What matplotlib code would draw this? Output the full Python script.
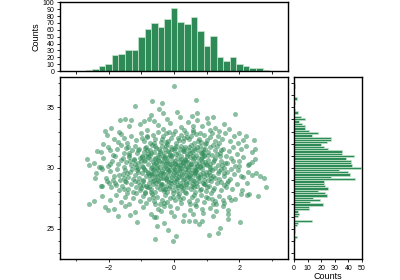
import numpy as np
import matplotlib.pyplot as plt
from matplotlib.ticker import MultipleLocator

plt.rcParams['font.family'] = ['Liberation Sans', 'DejaVu Sans']

# counts (x marginal)
x_counts = [2, 3, 7, 11, 23, 25, 30, 30, 50, 61, 70, 64, 76, 91, 72, 69,
            79, 58, 37, 51, 21, 15, 20, 10, 8, 5, 5, 2]
x_bins = np.linspace(-2.71, 2.92, len(x_counts) + 1)

# counts (y marginal), bottom to top
y_counts = [1, 2, 0, 1, 1, 1, 2, 3, 13, 0, 3, 4, 3, 11, 11, 21, 12, 19, 14, 24,
            23, 18, 25, 23, 22, 22, 45, 27, 41, 40, 33, 49, 43, 42, 42, 38, 44, 35, 35, 25,
            22, 20, 24, 27, 27, 13, 18, 11, 8, 8, 6, 4, 8, 5, 0, 3, 1, 0, 0, 1,
            0, 2, 0, 0, 0, 0, 1, 1]
y_bins = np.linspace(24.04, 36.96, len(y_counts) + 1)

# scatter points
outer_pts = [
    (0.0, 36.73), (-0.69, 35.52), (0.67, 35.63), (-1.2, 35.11), (-0.38, 35.38), (-0.45, 34.84),
    (-0.33, 34.53), (0.08, 34.62), (0.72, 34.56), (1.86, 34.48), (-1.66, 33.93), (-1.49, 34.01),
    (-1.32, 33.93), (-0.76, 34.01), (-1.92, 33.32), (-2.11, 33.02), (-1.7, 32.97), (1.0, 34.12),
    (1.19, 34.2), (1.7, 33.19), (2.0, 32.86), (2.22, 32.64), (2.47, 32.34), (1.38, 33.05),
    (1.1, 33.1), (-2.19, 32.0), (2.5, 31.54), (-2.35, 31.4), (-2.66, 30.74), (-2.61, 30.27),
    (-2.3, 30.08), (-2.43, 29.2), (-2.23, 28.49), (-2.0, 28.76), (-2.61, 27.06), (-2.45, 27.25),
    (-2.11, 26.79), (-2.03, 26.51), (-1.71, 26.04), (-1.14, 25.55), (-0.54, 25.96), (-0.53, 25.22),
    (-0.59, 24.18), (-0.03, 23.96), (0.05, 24.37), (-0.18, 24.92), (-0.31, 25.49), (1.06, 24.48),
    (1.36, 24.64), (1.42, 25.08), (1.67, 25.77), (2.03, 25.55), (1.67, 26.18), (0.46, 25.63),
    (0.63, 25.63), (0.87, 25.6), (0.78, 25.41), (0.27, 25.63), (2.57, 27.66), (2.81, 28.43),
    (2.75, 29.2), (2.63, 29.31), (2.52, 29.59), (2.41, 30.49), (2.26, 30.27), (2.05, 29.31),
    (2.29, 27.88), (1.75, 27.39), (1.5, 27.34), (1.19, 27.06), (1.16, 27.47), (1.67, 26.51),
]
core_pts = [
    # 33-34
    (-1.05, 33.6), (-0.62, 33.9), (-0.35, 33.2), (-0.12, 33.7), (0.21, 33.4), (0.44, 33.8),
    (0.58, 33.1), (0.86, 33.5), (1.27, 33.3), (-0.84, 33.15), (0.03, 33.05), (-1.38, 33.45),
    (0.71, 33.95), (-0.48, 33.55), (1.52, 33.6), (0.32, 33.15), (-0.93, 33.85), (1.05, 33.7),
    (-0.21, 34.05), (0.55, 34.3), (-0.7, 34.35), (0.18, 34.2),
    # 32-33
    (-1.85, 32.4), (-1.62, 32.8), (-1.44, 32.1), (-1.31, 32.65), (-1.18, 32.3), (-1.02, 32.9),
    (-0.91, 32.2), (-0.83, 32.55), (-0.74, 32.05), (-0.66, 32.75), (-0.57, 32.35), (-0.49, 32.95),
    (-0.41, 32.15), (-0.33, 32.6), (-0.26, 32.85), (-0.18, 32.25), (-0.09, 32.5), (-0.02, 32.8),
    (0.07, 32.1), (0.13, 32.45), (0.22, 32.7), (0.29, 32.2), (0.37, 32.9), (0.45, 32.35),
    (0.52, 32.6), (0.61, 32.05), (0.68, 32.8), (0.76, 32.4), (0.84, 32.15), (0.92, 32.7),
    (1.01, 32.3), (1.09, 32.55), (1.17, 32.9), (1.26, 32.2), (1.35, 32.65), (1.47, 32.4),
    (1.58, 32.85), (1.71, 32.25), (1.83, 32.6), (2.12, 32.3), (-2.05, 32.75), (-1.53, 32.5),
    (-0.97, 32.45), (-0.14, 32.95), (0.41, 32.55), (0.97, 32.05), (-0.62, 32.1), (0.58, 32.95),
    (1.38, 32.05), (-1.72, 32.15), (0.16, 32.3), (-0.37, 32.4), (0.8, 32.85), (1.95, 32.05),
    # 31-32
    (-2.25, 31.3), (-2.02, 31.75), (-1.88, 31.1), (-1.76, 31.55), (-1.64, 31.9), (-1.55, 31.2),
    (-1.46, 31.65), (-1.37, 31.05), (-1.29, 31.45), (-1.21, 31.8), (-1.13, 31.25), (-1.06, 31.6),
    (-0.98, 31.0), (-0.92, 31.35), (-0.86, 31.75), (-0.79, 31.15), (-0.73, 31.5), (-0.67, 31.9),
    (-0.61, 31.3), (-0.55, 31.65), (-0.49, 31.05), (-0.43, 31.4), (-0.38, 31.8), (-0.32, 31.2),
    (-0.27, 31.55), (-0.21, 31.95), (-0.16, 31.35), (-0.1, 31.7), (-0.05, 31.1), (0.01, 31.45),
    (0.06, 31.85), (0.11, 31.25), (0.17, 31.6), (0.23, 31.0), (0.28, 31.4), (0.34, 31.75),
    (0.39, 31.15), (0.45, 31.5), (0.51, 31.9), (0.56, 31.3), (0.62, 31.65), (0.67, 31.05),
    (0.73, 31.45), (0.79, 31.8), (0.85, 31.2), (0.9, 31.55), (0.96, 31.95), (1.03, 31.35),
    (1.1, 31.7), (1.18, 31.1), (1.25, 31.5), (1.33, 31.85), (1.42, 31.25), (1.51, 31.6),
    (1.6, 31.0), (1.7, 31.4), (1.81, 31.75), (1.93, 31.15), (2.06, 31.55), (2.21, 31.85),
    (2.38, 31.3), (-1.95, 31.45), (-1.41, 31.75), (-0.83, 31.45), (-0.46, 31.6), (-0.12, 31.05),
    (0.2, 31.8), (0.48, 31.2), (0.88, 31.35), (1.21, 31.9), (-0.7, 31.25), (0.31, 31.55),
    (0.7, 31.7), (-0.24, 31.85), (1.05, 31.05), (-1.1, 31.5), (0.03, 31.65), (0.6, 31.45),
    (-0.57, 31.85), (1.45, 31.45), (-0.35, 31.0), (0.95, 31.6),
    # 30-31
    (-2.45, 30.4), (-2.18, 30.85), (-2.02, 30.15), (-1.9, 30.6), (-1.81, 30.95), (-1.72, 30.3),
    (-1.63, 30.7), (-1.55, 30.05), (-1.47, 30.5), (-1.39, 30.9), (-1.31, 30.25), (-1.24, 30.65),
    (-1.17, 30.1), (-1.1, 30.45), (-1.04, 30.8), (-0.97, 30.2), (-0.91, 30.55), (-0.85, 30.95),
    (-0.79, 30.35), (-0.74, 30.75), (-0.68, 30.1), (-0.63, 30.5), (-0.57, 30.85), (-0.52, 30.25),
    (-0.47, 30.6), (-0.42, 30.05), (-0.37, 30.4), (-0.32, 30.8), (-0.27, 30.2), (-0.22, 30.55),
    (-0.17, 30.9), (-0.12, 30.3), (-0.07, 30.7), (-0.02, 30.1), (0.03, 30.45), (0.08, 30.85),
    (0.13, 30.25), (0.18, 30.6), (0.23, 30.0), (0.28, 30.4), (0.33, 30.75), (0.38, 30.15),
    (0.43, 30.5), (0.48, 30.9), (0.53, 30.3), (0.58, 30.65), (0.63, 30.05), (0.68, 30.45),
    (0.74, 30.8), (0.8, 30.2), (0.86, 30.55), (0.92, 30.95), (0.98, 30.35), (1.05, 30.7),
    (1.12, 30.1), (1.19, 30.5), (1.27, 30.85), (1.35, 30.25), (1.44, 30.6), (1.53, 30.0),
    (1.63, 30.4), (1.74, 30.8), (1.86, 30.2), (1.99, 30.55), (2.13, 30.9), (2.3, 30.35),
    (2.48, 30.75), (-2.25, 30.05), (-1.58, 30.85), (-1.2, 30.35), (-0.88, 30.65), (-0.6, 30.3),
    (-0.34, 30.6), (-0.09, 30.95), (0.1, 30.15), (0.36, 30.55), (0.61, 30.85), (0.9, 30.25),
    (1.22, 30.65), (1.58, 30.45), (-1.0, 30.6), (-0.45, 30.9), (0.21, 30.75), (0.71, 30.15),
    (1.4, 30.95), (-0.24, 30.35), (0.5, 30.2), (-1.35, 30.55), (0.95, 30.5), (-0.7, 30.0),
    (0.02, 30.6), (1.8, 30.6), (-0.15, 30.05), (0.4, 30.95), (-0.55, 30.45), (1.1, 30.35),
    (0.27, 30.25), (-0.8, 30.9), (0.83, 30.75), (-1.95, 30.35), (2.0, 30.15),
    # 29-30
    (-2.38, 29.6), (-2.1, 29.2), (-1.96, 29.75), (-1.84, 29.35), (-1.75, 29.9), (-1.66, 29.05),
    (-1.58, 29.5), (-1.5, 29.85), (-1.42, 29.25), (-1.34, 29.65), (-1.27, 29.1), (-1.2, 29.45),
    (-1.13, 29.8), (-1.06, 29.2), (-0.99, 29.55), (-0.93, 29.95), (-0.87, 29.35), (-0.81, 29.7),
    (-0.75, 29.1), (-0.69, 29.45), (-0.64, 29.85), (-0.58, 29.25), (-0.53, 29.6), (-0.48, 29.0),
    (-0.43, 29.4), (-0.38, 29.75), (-0.33, 29.15), (-0.28, 29.5), (-0.23, 29.9), (-0.18, 29.3),
    (-0.13, 29.65), (-0.08, 29.05), (-0.03, 29.4), (0.02, 29.8), (0.07, 29.2), (0.12, 29.55),
    (0.17, 29.95), (0.22, 29.35), (0.27, 29.7), (0.32, 29.1), (0.37, 29.45), (0.42, 29.85),
    (0.47, 29.25), (0.52, 29.6), (0.57, 29.0), (0.62, 29.4), (0.67, 29.75), (0.73, 29.15),
    (0.79, 29.5), (0.85, 29.9), (0.91, 29.3), (0.97, 29.65), (1.04, 29.05), (1.11, 29.45),
    (1.18, 29.8), (1.26, 29.2), (1.34, 29.55), (1.43, 29.95), (1.52, 29.35), (1.62, 29.7),
    (1.72, 29.1), (1.84, 29.5), (1.97, 29.85), (2.12, 29.25), (2.27, 29.65), (-2.22, 29.95),
    (-1.7, 29.45), (-1.3, 29.9), (-0.96, 29.05), (-0.66, 29.6), (-0.4, 29.2), (-0.16, 29.85),
    (0.05, 29.5), (0.28, 29.05), (0.54, 29.85), (0.8, 29.25), (1.07, 29.7), (1.38, 29.1),
    (1.76, 29.9), (-1.1, 29.65), (-0.5, 29.8), (0.15, 29.25), (0.65, 29.55), (1.2, 29.35),
    (-0.78, 29.4), (0.4, 29.65), (-0.25, 29.1), (0.92, 29.0), (-1.45, 29.6), (0.0, 29.95),
    (1.55, 29.55), (-0.6, 29.0), (0.33, 29.9), (-0.06, 29.25), (0.72, 29.95), (1.0, 29.4),
    (-0.88, 29.8), (-0.35, 29.55), (0.5, 29.4), (-1.88, 29.05), (2.4, 29.45),
    # 28-29
    (-2.05, 28.9), (-1.92, 28.4), (-1.8, 28.75), (-1.69, 28.15), (-1.59, 28.55), (-1.5, 28.95),
    (-1.41, 28.3), (-1.33, 28.7), (-1.25, 28.05), (-1.17, 28.45), (-1.1, 28.85), (-1.03, 28.2),
    (-0.96, 28.6), (-0.89, 28.0), (-0.83, 28.4), (-0.77, 28.8), (-0.71, 28.25), (-0.65, 28.65),
    (-0.59, 28.05), (-0.53, 28.45), (-0.48, 28.9), (-0.42, 28.3), (-0.37, 28.7), (-0.31, 28.1),
    (-0.26, 28.5), (-0.2, 28.9), (-0.15, 28.35), (-0.09, 28.75), (-0.04, 28.15), (0.02, 28.55),
    (0.07, 28.95), (0.13, 28.4), (0.18, 28.8), (0.24, 28.2), (0.29, 28.6), (0.35, 28.0),
    (0.4, 28.45), (0.46, 28.85), (0.52, 28.25), (0.58, 28.65), (0.64, 28.05), (0.7, 28.5),
    (0.77, 28.9), (0.84, 28.3), (0.91, 28.7), (0.99, 28.1), (1.07, 28.55), (1.15, 28.95),
    (1.24, 28.35), (1.33, 28.75), (1.43, 28.15), (1.54, 28.6), (1.66, 28.9), (1.79, 28.3),
    (1.94, 28.7), (2.1, 28.2), (-2.2, 28.5), (-1.55, 28.25), (-1.2, 28.9), (-0.85, 28.5),
    (-0.56, 28.75), (-0.28, 28.25), (0.0, 28.85), (0.27, 28.35), (0.55, 28.55), (0.88, 28.8),
    (1.2, 28.2), (-0.7, 28.0), (0.1, 28.1), (0.62, 28.95), (-0.4, 28.6), (1.0, 28.45),
    (-1.0, 28.35), (0.38, 28.7), (-0.12, 28.55), (1.45, 28.85), (-1.78, 28.6), (0.8, 28.15),
    (-0.2, 28.05), (1.6, 28.4), (2.25, 28.75), (-0.95, 28.95),
    # 27-28
    (-1.95, 27.4), (-1.78, 27.8), (-1.62, 27.2), (-1.5, 27.6), (-1.38, 27.05), (-1.27, 27.5),
    (-1.16, 27.9), (-1.05, 27.3), (-0.95, 27.7), (-0.86, 27.1), (-0.77, 27.45), (-0.68, 27.85),
    (-0.6, 27.25), (-0.52, 27.65), (-0.44, 27.0), (-0.36, 27.4), (-0.28, 27.8), (-0.2, 27.2),
    (-0.12, 27.55), (-0.04, 27.95), (0.04, 27.35), (0.12, 27.7), (0.2, 27.1), (0.28, 27.5),
    (0.36, 27.9), (0.45, 27.25), (0.54, 27.6), (0.63, 27.0), (0.72, 27.4), (0.82, 27.8),
    (0.92, 27.2), (1.03, 27.55), (1.14, 27.95), (1.26, 27.3), (1.38, 27.7), (1.52, 27.15),
    (1.68, 27.6), (1.86, 27.45), (2.05, 27.85), (2.25, 27.75), (-2.2, 27.7), (-0.9, 27.95),
    (-0.3, 27.1), (0.15, 27.85), (0.5, 27.05), (0.98, 27.65), (1.3, 27.05), (-1.45, 27.9),
    (0.62, 27.75), (-0.58, 27.0),
    # 26-27
    (-1.85, 26.6), (-1.5, 26.85), (-1.2, 26.4), (-0.95, 26.75), (-0.72, 26.2), (-0.5, 26.6),
    (-0.3, 26.9), (-0.1, 26.35), (0.1, 26.7), (0.3, 26.15), (0.48, 26.55), (0.68, 26.9),
    (0.9, 26.3), (1.1, 26.7), (1.3, 26.45), (1.5, 26.85), (-1.35, 26.15), (0.0, 26.05),
    (0.58, 26.25), (-0.4, 26.45), (1.2, 26.05), (-0.62, 25.95), (0.85, 26.6),
]
dense_pts = [
    (-0.95, 30.12), (-0.81, 29.62), (-0.73, 31.08), (-0.66, 28.92), (-0.59, 30.78), (-0.51, 29.33),
    (-0.44, 31.27), (-0.39, 28.71), (-0.31, 30.04), (-0.26, 29.18), (-0.19, 31.42), (-0.14, 28.86),
    (-0.08, 30.33), (-0.01, 29.71), (0.06, 31.14), (0.11, 28.63), (0.19, 30.21), (0.24, 29.47),
    (0.31, 31.36), (0.36, 28.82), (0.44, 30.09), (0.49, 29.14), (0.57, 30.98), (0.63, 29.82),
    (0.69, 28.77), (0.76, 30.41), (0.83, 31.22), (0.89, 29.58), (0.96, 28.69), (1.02, 30.27),
    (-0.88, 31.63), (-0.77, 28.47), (-0.62, 29.91), (-0.48, 30.66), (-0.35, 28.28), (-0.21, 30.47),
    (-0.05, 31.58), (0.08, 29.09), (0.22, 28.53), (0.35, 30.62), (0.47, 31.72), (0.61, 28.41),
    (0.74, 29.36), (0.87, 30.87), (1.13, 29.14), (1.27, 30.03), (-1.12, 29.97), (-1.24, 30.78),
    (-1.05, 28.64), (1.31, 31.17), (-0.53, 30.02), (-0.41, 29.57), (-0.29, 30.94), (-0.17, 29.77),
    (0.04, 30.29), (0.14, 29.86), (0.27, 30.52), (0.39, 29.28), (0.52, 30.36), (0.66, 29.71),
    (0.79, 30.06), (0.93, 31.05), (-0.71, 29.53), (-0.97, 30.91), (1.09, 29.91), (-1.38, 31.23),
    (1.46, 30.21), (-1.52, 29.17), (1.62, 28.73), (-0.02, 27.62), (-0.84, 32.62), (0.31, 32.48),
    (-0.25, 32.14), (0.74, 32.22), (-1.47, 28.82), (1.39, 29.73), (0.18, 27.42), (-0.66, 27.63),
    (0.57, 33.44), (-0.13, 26.83),
]

px, py = np.array(outer_pts + core_pts + dense_pts).T

green = '#2e8b57'
fig = plt.figure(figsize=(4, 2.8), dpi=100)
ax = fig.add_axes([0.15, 0.075, 0.57, 0.65])
ax_top = fig.add_axes([0.15, 0.746, 0.57, 0.246])
ax_right = fig.add_axes([0.735, 0.075, 0.17, 0.65])

ax.scatter(px, py, s=13, color=green, alpha=0.55, linewidths=0)
ax.set_xlim(-3.5, 3.5)
ax.set_ylim(22.5, 37.5)
ax.xaxis.set_major_locator(MultipleLocator(2))
ax.xaxis.set_minor_locator(MultipleLocator(1))
ax.yaxis.set_major_locator(MultipleLocator(5))
ax.yaxis.set_minor_locator(MultipleLocator(1))

ax_top.bar(x_bins[:-1], x_counts, width=np.diff(x_bins), align='edge',
           color=green, edgecolor='#c8e6d0', linewidth=0.5)
ax_top.set_xlim(-3.5, 3.5)
ax_top.set_ylim(0, 100)
ax_top.xaxis.set_major_locator(MultipleLocator(1))
ax_top.yaxis.set_major_locator(MultipleLocator(10))
ax_top.tick_params(labelbottom=False)
ax_top.set_ylabel('Counts', fontsize=6.5, labelpad=2)

ax_right.barh(y_bins[:-1], y_counts, height=np.diff(y_bins), align='edge',
              color=green, edgecolor='#c8e6d0', linewidth=0.5)
ax_right.set_ylim(22.5, 37.5)
ax_right.set_xlim(0, 50)
ax_right.xaxis.set_major_locator(MultipleLocator(10))
ax_right.yaxis.set_major_locator(MultipleLocator(1))
ax_right.tick_params(labelleft=False)
ax_right.set_xlabel('Counts', fontsize=6.5, labelpad=0)

for a in (ax, ax_top, ax_right):
    for sp in a.spines.values():
        sp.set_linewidth(1.0)
    a.tick_params(which='major', direction='out', length=2.5, width=0.6, labelsize=5, pad=1.5)
    a.tick_params(which='minor', direction='out', length=1.5, width=0.5)

fig.savefig('out.png', dpi=100)
